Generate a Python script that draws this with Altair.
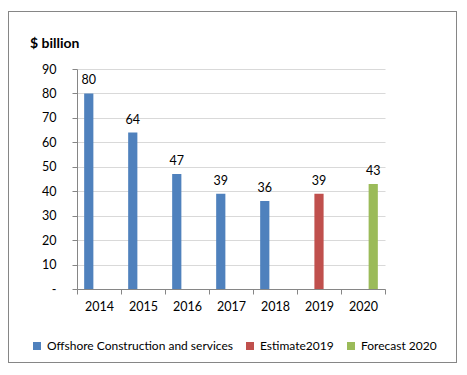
import altair as alt
import pandas as pd

years = ["2014", "2015", "2016", "2017", "2018", "2019", "2020"]
series = ["Offshore Construction and services", "Offshore Construction and services",
          "Offshore Construction and services", "Offshore Construction and services",
          "Offshore Construction and services", "Estimate2019", "Forecast 2020"]
values = [80, 64, 47, 39, 36, 39, 43]
series_order = ["Offshore Construction and services", "Estimate2019", "Forecast 2020"]
colors = ["#4F81BD", "#C0504D", "#9BBB59"]
title_text = ["$ billion"]

df = pd.DataFrame({"year": years, "series": series, "value": values})

FONT = "Lato"

x = alt.X("year:N", title=None, sort=years,
          scale=alt.Scale(paddingInner=0, paddingOuter=0),
          axis=alt.Axis(labelAngle=0, tickBand="extent", tickSize=5, labelPadding=6,
                        domainColor="#868686", tickColor="#868686", grid=False,
                        labelFontSize=12.5, labelColor="#000000", labelFont=FONT))
xoff = alt.XOffset("series:N", sort=series_order,
                   scale=alt.Scale(domain=series_order, paddingOuter=0.7, paddingInner=0.1))
y = alt.Y("value:Q", title=None,
          scale=alt.Scale(domain=[0, 90], nice=False),
          axis=alt.Axis(values=list(range(0, 91, 10)), tickSize=5, labelPadding=16,
                        labelOverlap=False,
                        labelExpr="datum.value == 0 ? '-' : datum.label",
                        domainColor="#868686", tickColor="#868686",
                        gridColor="#d9d9d9", grid=True,
                        labelFontSize=12.5, labelColor="#000000", labelFont=FONT))

bars = alt.Chart(df).mark_bar().encode(
    x=x, xOffset=xoff, y=y,
    color=alt.Color("series:N", sort=series_order,
                    scale=alt.Scale(domain=series_order, range=colors),
                    legend=alt.Legend(title=None, orient="none", direction="horizontal",
                                      legendX=-46, legendY=271,
                                      symbolType="square", symbolSize=64,
                                      symbolStrokeWidth=0,
                                      labelFontSize=12, labelFont=FONT, labelColor="#000000",
                                      columnPadding=11, labelLimit=300)),
)

labels = alt.Chart(df).mark_text(baseline="bottom", dy=-6, fontSize=12.5, font=FONT,
                                 color="#000000").encode(
    x=x, xOffset=xoff, y=y, text="value:Q")

frame = alt.Chart(df).mark_rect(fill=None, stroke="#868686", strokeWidth=1).encode(
    x=alt.value(-68.5), x2=alt.value(379.5), y=alt.value(-57.5), y2=alt.value(293.5))

title = alt.Chart(pd.DataFrame({"t": title_text})).mark_text(
    align="left", baseline="alphabetic", fontSize=14, fontWeight="bold",
    font=FONT, color="#000000").encode(
    x=alt.value(-47), y=alt.value(-21), text="t:N")

chart = alt.layer(bars, labels, frame, title).properties(
    width=308, height=220,
    autosize=alt.AutoSizeParams(type="none"),
    padding={"left": 69, "top": 61, "right": 72, "bottom": 77},
).configure_view(stroke=None)

chart.save("out.html", embed_options={"renderer": "svg", "actions": False})
